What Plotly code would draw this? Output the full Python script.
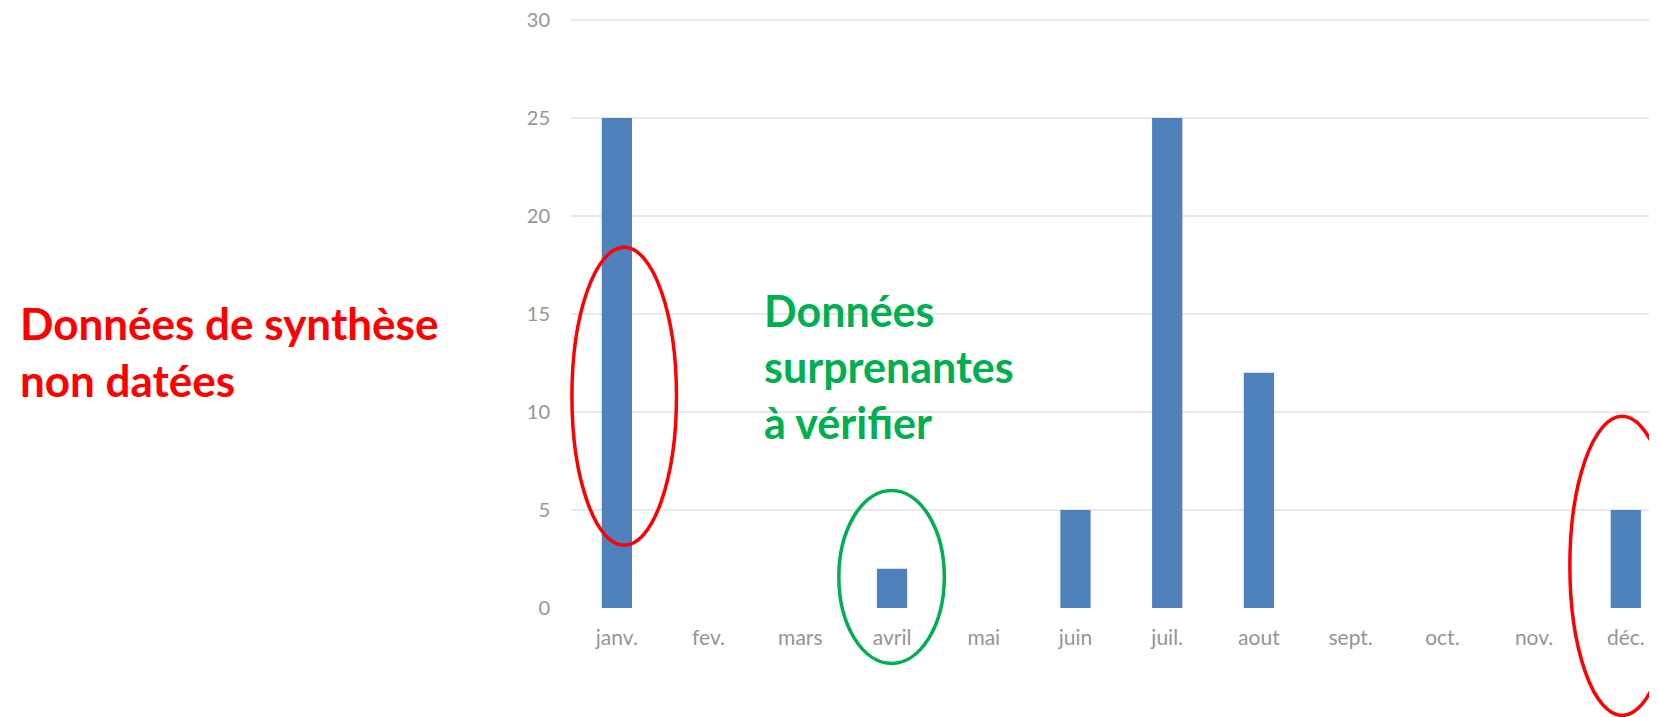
import plotly.graph_objects as go

months = ["janv.", "fev.", "mars", "avril", "mai", "juin", "juil.", "aout", "sept.", "oct.", "nov.", "déc."]
counts = [25, 0, 0, 2, 0, 5, 25, 12, 0, 0, 0, 5]
y_ticks = [0, 5, 10, 15, 20, 25, 30]

# page has an 8px body margin; compensate
W, H = 1649, 709
X_MIN, X_MAX = -0.5, 11.34
Y_MIN, Y_MAX = 0, 30.1
PPU = 19.59  # pixels per y unit
L = 563
T = 10
PLOT_H = (Y_MAX - Y_MIN) * PPU
B = H - T - PLOT_H
PLOT_W = W - L


def px(xv):
    return (xv - X_MIN) / (X_MAX - X_MIN)


def py(yv):
    return (yv - Y_MIN) / (Y_MAX - Y_MIN)


fig = go.Figure()
fig.add_trace(go.Bar(
    x=list(range(len(months))), y=counts,
    width=0.33,
    marker=dict(color="#4F81BD", line=dict(width=0)),
    hoverinfo="skip",
))

ellipses = [
    # (x0, x1, y0, y1, color)
    (-0.49, 0.65, 3.2, 18.4, "#FF0000"),
    (2.42, 3.57, -2.83, 6.0, "#00B050"),
    (10.39, 11.53, -5.48, 9.78, "#FF0000"),
]
for x0, x1, y0, y1, col in ellipses:
    fig.add_shape(type="circle", xref="paper", yref="paper",
                  x0=px(x0), x1=px(x1), y0=py(y0), y1=py(y1),
                  line=dict(color=col, width=3.5), layer="above")

fig.add_annotation(
    xref="paper", yref="paper", x=(18 - 571) / PLOT_W, y=py(15.96),
    xanchor="left", yanchor="top", align="left", showarrow=False,
    text="Données de synthèse<br>non datées",
    font=dict(family="Lato", size=44, color="#FF0000", weight="bold"),
)
fig.add_annotation(
    xref="paper", yref="paper", x=(762 - 571) / PLOT_W, y=py(16.6),
    xanchor="left", yanchor="top", align="left", showarrow=False,
    text="Données<br>surprenantes<br>à vérifier",
    font=dict(family="Lato", size=43, color="#00B050", weight="bold"),
)

fig.update_layout(
    width=W, height=H,
    margin=dict(l=L, r=0, t=T, b=B, pad=0),
    paper_bgcolor="white", plot_bgcolor="white",
    showlegend=False,
    xaxis=dict(
        range=[X_MIN, X_MAX],
        tickmode="array", tickvals=list(range(len(months))), ticktext=months,
        showgrid=False, zeroline=False, showline=False, ticks="",
        tickfont=dict(family="Lato", size=21, color="#959595"),
        ticklabelstandoff=15,
        ticklabeloverflow="allow",
    ),
    yaxis=dict(
        range=[Y_MIN, Y_MAX],
        tickmode="array", tickvals=y_ticks,
        showgrid=True, gridcolor="#E8E8E8", gridwidth=2,
        zeroline=False, showline=False, ticks="",
        tickfont=dict(family="Lato", size=20, color="#959595"),
        ticklabelstandoff=20,
        ticklabeloverflow="allow",
    ),
)

fig.write_html("out.html")
